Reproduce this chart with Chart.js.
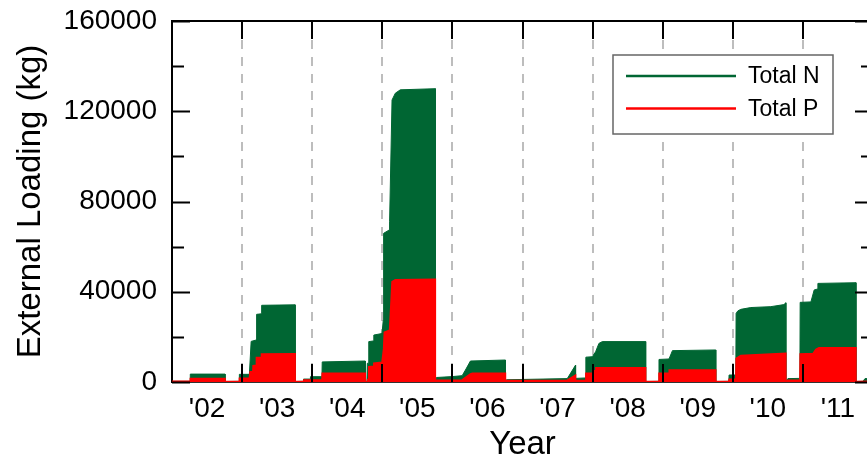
<!DOCTYPE html>
<html>
<head>
<meta charset="utf-8">
<title>External Loading</title>
<script src="https://cdn.jsdelivr.net/npm/chart.js@4/dist/chart.umd.min.js"></script>
<style>
  html, body { margin: 0; padding: 0; background: #fff; overflow: hidden; }
  #wrap { width: 880px; height: 461px; }
</style>
</head>
<body>
<div id="wrap"><canvas id="loadChart" width="880" height="461"></canvas></div>
<script>
// cumulative loading per water year (Oct 1 reset), time in decimal years
const nTime = [2002.000, 2002.257, 2002.261, 2002.757, 2002.757, 2002.957, 2002.961, 2003.104, 2003.129, 2003.200,
  2003.207, 2003.271, 2003.279, 2003.757, 2003.757, 2003.871, 2003.876, 2003.971, 2003.975, 2004.139,
  2004.143, 2004.757, 2004.757, 2004.781, 2004.786, 2004.804, 2004.807, 2004.876, 2004.879, 2004.996,
  2005.014, 2005.019, 2005.100, 2005.104, 2005.139, 2005.186, 2005.257, 2005.757, 2005.757, 2005.771,
  2006.000, 2006.139, 2006.186, 2006.257, 2006.757, 2006.757, 2006.771, 2007.639, 2007.757, 2007.757,
  2007.900, 2007.904, 2007.996, 2008.043, 2008.090, 2008.139, 2008.757, 2008.757, 2008.943, 2008.947,
  2009.090, 2009.139, 2009.757, 2009.757, 2009.943, 2009.947, 2010.043, 2010.047, 2010.071, 2010.114,
  2010.257, 2010.543, 2010.729, 2010.757, 2010.757, 2010.786, 2010.957, 2010.961, 2011.114, 2011.161,
  2011.210, 2011.214, 2011.757, 2011.757, 2011.857, 2011.886, 2012.000];
const nLoad = [300, 300, 3500, 3500, 200, 300, 3400, 3400, 18000, 18600,
  30000, 30200, 34000, 34200, 200, 300, 1300, 1300, 2350, 2350,
  8900, 9300, 200, 200, 8300, 8300, 17900, 18200, 20800, 21500,
  27500, 65900, 67400, 71000, 125000, 128000, 129500, 130000, 200, 2000,
  2400, 2800, 5300, 9300, 9750, 200, 1000, 1500, 7500, 1600,
  1800, 11000, 11200, 13400, 17100, 17900, 17900, 200, 300, 10000,
  10200, 13900, 14200, 200, 300, 3100, 3100, 30400, 31500, 32200,
  33000, 33400, 34300, 35100, 200, 1500, 1600, 35300, 35500, 40800,
  41200, 43700, 44000, 200, 300, 1500, 1500];

const pTime = [2002.000, 2002.257, 2002.261, 2002.757, 2002.757, 2002.957, 2002.961, 2003.104, 2003.114, 2003.153,
  2003.157, 2003.200, 2003.204, 2003.271, 2003.276, 2003.757, 2003.757, 2003.876, 2003.879, 2004.139,
  2004.143, 2004.757, 2004.757, 2004.786, 2004.790, 2004.804, 2004.807, 2004.876, 2004.879, 2004.996,
  2005.019, 2005.029, 2005.104, 2005.139, 2005.186, 2005.757, 2005.757, 2005.771, 2006.139, 2006.257,
  2006.286, 2006.757, 2006.757, 2006.771, 2007.639, 2007.757, 2007.757, 2007.900, 2007.904, 2007.996,
  2008.000, 2008.043, 2008.047, 2008.757, 2008.757, 2008.943, 2008.947, 2009.090, 2009.093, 2009.757,
  2009.757, 2009.943, 2009.947, 2010.043, 2010.047, 2010.114, 2010.757, 2010.757, 2010.786, 2010.957,
  2010.961, 2011.143, 2011.186, 2011.229, 2011.757, 2011.757, 2012.000];
const pLoad = [300, 300, 1600, 1600, 200, 300, 1640, 1700, 4570, 4700,
  7230, 7400, 10900, 11000, 12400, 12500, 200, 300, 900, 900,
  3850, 3900, 200, 300, 1100, 1100, 6800, 7000, 8300, 8800,
  14900, 22000, 23000, 44500, 45300, 45500, 200, 800, 900, 3550,
  3850, 3850, 200, 700, 800, 3100, 700, 800, 3850, 3900,
  5000, 5100, 6350, 6350, 200, 300, 3850, 3900, 5300, 5300,
  200, 300, 1200, 1200, 10500, 11800, 12700, 200, 800, 800,
  12400, 12600, 14500, 15200, 15200, 200, 300];

const yearMids = [2002.5, 2003.5, 2004.5, 2005.5, 2006.5, 2007.5, 2008.5, 2009.5, 2010.5, 2011.5];
const yearLabels = ["'02", "'03", "'04", "'05", "'06", "'07", "'08", "'09", "'10", "'11"];
const yearBreaks = [2003, 2004, 2005, 2006, 2007, 2008, 2009, 2010, 2011];
const loadTicks = [0, 40000, 80000, 120000, 160000];

const GREEN = '#006633';
const RED = '#ff0000';
const FONT = '"Liberation Sans", Arial, sans-serif';

Chart.defaults.font.family = FONT;
Chart.defaults.color = '#000';

function toPoints(xs, ys) {
  return xs.map((x, i) => ({ x: x, y: ys[i] }));
}

// dashed year separators under the areas, frame ticks and legend box on top
const framePlugin = {
  id: 'frame',
  beforeDatasetsDraw(chart) {
    const { ctx, chartArea: a, scales: { x } } = chart;
    ctx.save();
    ctx.strokeStyle = '#a8a8a8';
    ctx.lineWidth = 1.5;
    ctx.setLineDash([9, 8]);
    yearBreaks.forEach(yr => {
      const px = Math.round(x.getPixelForValue(yr));
      ctx.beginPath();
      ctx.moveTo(px, a.top + 19);
      ctx.lineTo(px, a.bottom);
      ctx.stroke();
    });
    ctx.restore();
  },
  afterDatasetsDraw(chart) {
    const { ctx, chartArea: a, scales: { x, y } } = chart;
    ctx.save();
    ctx.strokeStyle = '#000';
    ctx.lineWidth = 2;
    ctx.beginPath();
    ctx.moveTo(a.left, a.top);
    ctx.lineTo(a.right, a.top);
    ctx.moveTo(a.right, a.top);
    ctx.lineTo(a.right, a.bottom);
    // inward ticks on left/right, minor ones halfway between labels
    for (let i = 0; i < loadTicks.length; i++) {
      const vals = [loadTicks[i]];
      if (i < loadTicks.length - 1) vals.push((loadTicks[i] + loadTicks[i + 1]) / 2);
      vals.forEach((v, k) => {
        const py = Math.round(y.getPixelForValue(v)) + 0.5;
        const len = k === 0 ? 18 : 12;
        ctx.moveTo(a.left, py);
        ctx.lineTo(a.left + len, py);
        ctx.moveTo(a.right, py);
        ctx.lineTo(a.right - len, py);
      });
    }
    yearBreaks.forEach(yr => {
      const px = Math.round(x.getPixelForValue(yr));
      ctx.moveTo(px, a.top);
      ctx.lineTo(px, a.top + 18);
      ctx.moveTo(px, a.bottom);
      ctx.lineTo(px, a.bottom - 18);
    });
    ctx.stroke();

    // legend
    const bx = 613, by = 55, bw = 220, bh = 79;
    ctx.fillStyle = '#fff';
    ctx.fillRect(bx, by, bw, bh);
    ctx.strokeStyle = '#666';
    ctx.lineWidth = 1.5;
    ctx.strokeRect(bx, by, bw, bh);
    ctx.font = '23px ' + FONT;
    ctx.textBaseline = 'middle';
    ctx.textAlign = 'left';
    chart.data.datasets.forEach((ds, i) => {
      const ly = by + 21 + i * 32.5;
      ctx.strokeStyle = ds.borderColor;
      ctx.lineWidth = 2.5;
      ctx.beginPath();
      ctx.moveTo(bx + 13, ly);
      ctx.lineTo(bx + 123, ly);
      ctx.stroke();
      ctx.fillStyle = '#000';
      ctx.fillText(ds.label, bx + 135, ly + 1);
    });
    ctx.restore();
  }
};

new Chart(document.getElementById('loadChart'), {
  type: 'line',
  data: {
    datasets: [
      {
        label: 'Total N',
        data: toPoints(nTime, nLoad),
        borderColor: GREEN,
        backgroundColor: GREEN,
        borderWidth: 1,
        fill: 'origin',
        pointRadius: 0,
        tension: 0,
        order: 2
      },
      {
        label: 'Total P',
        data: toPoints(pTime, pLoad),
        borderColor: RED,
        backgroundColor: RED,
        borderWidth: 1.5,
        fill: 'origin',
        pointRadius: 0,
        tension: 0,
        order: 1
      }
    ]
  },
  options: {
    responsive: false,
    animation: false,
    layout: { padding: { top: 21, right: 7, bottom: 0, left: 0 } },
    plugins: {
      legend: { display: false },
      tooltip: { enabled: false }
    },
    scales: {
      x: {
        type: 'linear',
        min: 2002,
        max: 2012,
        afterBuildTicks: s => { s.ticks = yearMids.map(v => ({ value: v })); },
        afterFit: s => { s.height = 79; s.paddingLeft = 0; s.paddingRight = 0; },
        ticks: {
          font: { size: 28 },
          padding: 10,
          maxRotation: 0,
          autoSkip: false,
          callback: (v) => yearLabels[yearMids.indexOf(v)]
        },
        grid: { display: false, drawTicks: false },
        border: { display: true, color: '#333', width: 2 },
        title: {
          display: true,
          text: 'Year',
          font: { size: 33, lineHeight: 1 },
          padding: { top: 0, bottom: 0 }
        }
      },
      y: {
        min: 0,
        max: 160000,
        afterBuildTicks: s => { s.ticks = loadTicks.map(v => ({ value: v })); },
        // label overhang would otherwise push the plot area down
        afterFit: s => { s.width = 172; s.paddingTop = 0; s.paddingBottom = 0; },
        ticks: {
          font: { size: 28 },
          padding: 15,
          callback: v => String(v)
        },
        grid: { display: false, drawTicks: false },
        border: { display: true, color: '#000', width: 2 },
        title: {
          display: true,
          text: 'External Loading (kg)',
          font: { size: 33 },
          padding: { top: 11, bottom: 0 }
        }
      }
    }
  },
  plugins: [framePlugin]
});
</script>
</body>
</html>
